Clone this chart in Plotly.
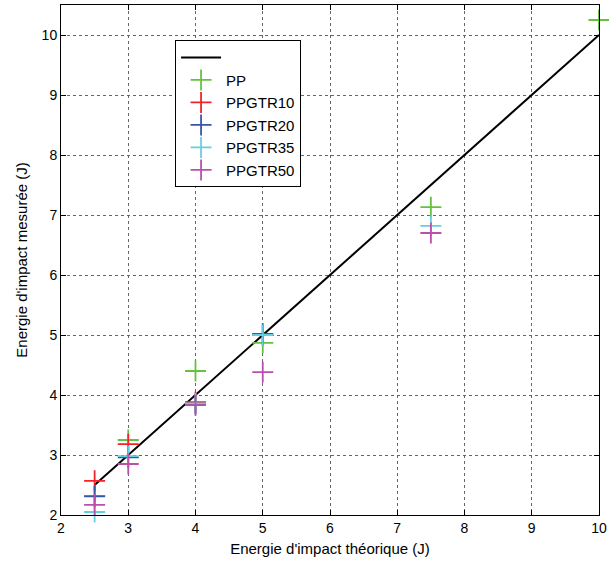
import plotly.graph_objects as go

# Data
line_x = [2.5, 10]
line_y = [2.5, 10]

pp_x = [2.5, 3, 4, 5, 7.5, 10]
pp_y = [2.32, 3.25, 4.40, 4.87, 7.13, 10.25]

r10_x = [2.5, 3, 4, 5]
r10_y = [2.57, 3.18, 3.88, 5.00]

r20_x = [2.5, 3, 4, 5]
r20_y = [2.31, 2.96, 3.85, 5.02]

r35_x = [2.5, 3, 4, 5, 7.5]
r35_y = [2.05, 2.98, 3.86, 5.00, 6.82]

r50_x = [2.5, 3, 4, 5, 7.5]
r50_y = [2.17, 2.85, 3.83, 4.38, 6.70]

names = ["PP", "PPGTR10", "PPGTR20", "PPGTR35", "PPGTR50"]
colors = ["#66c23e", "#f5222a", "#3a55a6", "#62d0e3", "#bb50ac"]
series = [(pp_x, pp_y), (r10_x, r10_y), (r20_x, r20_y), (r35_x, r35_y), (r50_x, r50_y)]

fig = go.Figure()
fig.add_trace(go.Scatter(x=line_x, y=line_y, mode="lines", name="",
                         line=dict(color="black", width=2)))
for (xs, ys), n, c in zip(series, names, colors):
    fig.add_trace(go.Scatter(x=xs, y=ys, mode="markers", name=n, cliponaxis=False,
                             marker=dict(symbol="cross-thin", size=15,
                                         line=dict(color=c, width=1.8), color=c)))

axis_common = dict(showgrid=True, gridcolor="#666666", griddash="dot", gridwidth=1,
                   showline=True, linecolor="black", linewidth=1, mirror="ticks",
                   ticks="inside", ticklen=5, tickcolor="black", zeroline=False,
                   automargin=False,
                   tickfont=dict(size=14, color="black", family="Liberation Sans, Arial"))

fig.update_layout(
    width=609, height=563,
    margin=dict(l=61, r=10, t=5, b=48, autoexpand=False),
    plot_bgcolor="white", paper_bgcolor="white",
    font=dict(family="Liberation Sans, Arial", color="black", size=14),
    xaxis=dict(range=[2, 10], dtick=1, **axis_common,
               title=dict(text="Energie d'impact théorique (J)", font=dict(size=15), standoff=8)),
    yaxis=dict(range=[2, 10.5], tickvals=[2, 3, 4, 5, 6, 7, 8, 9, 10], **axis_common,
               title=dict(text="Energie d'impact mesurée (J)", font=dict(size=15), standoff=10)),
    legend=dict(x=0.212, y=0.931, xanchor="left", yanchor="top",
                bgcolor="white", bordercolor="black", borderwidth=1,
                font=dict(size=15), tracegroupgap=0, itemwidth=40),
    showlegend=True,
)

fig.write_html("out.html", config={"displayModeBar": False},
               post_script="document.body.style.margin='0';document.body.style.overflow='hidden';")
